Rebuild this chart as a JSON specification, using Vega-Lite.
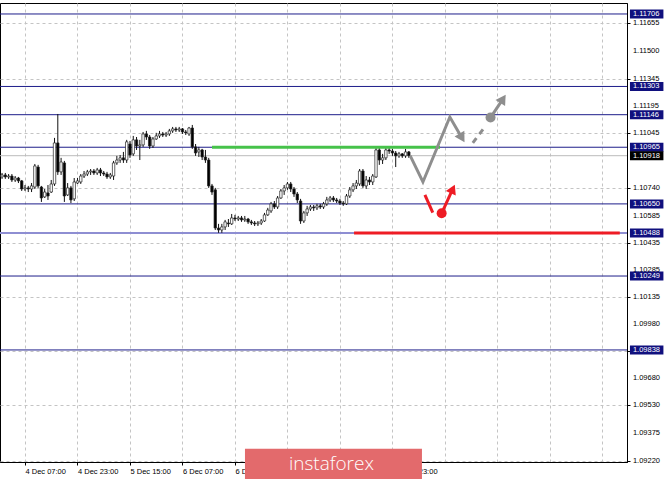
{
  "$schema": "https://vega.github.io/schema/vega-lite/v6.json",
  "autosize": "none",
  "width": 627,
  "height": 459,
  "padding": {"left": 0, "top": 3, "right": 38, "bottom": 18},
  "background": "white",
  "config": {
    "view": {"stroke": "#000", "strokeWidth": 1},
    "axis": {"labelFont": "Liberation Sans", "labelFontSize": 7.5, "labelColor": "#000", "domainColor": "#000", "tickColor": "#000", "gridColor": "#c4c4c4", "gridDash": [3, 3], "gridWidth": 1, "title": null, "labelOverlap": false, "labelFlush": false, "labelBound": false}
  },
  "datasets": {
    "candles": [
      {"i": -7, "o": 1.10800, "c": 1.10811, "h": 1.10822, "l": 1.10789},
      {"i": -6, "o": 1.10811, "c": 1.10800, "h": 1.10822, "l": 1.10789},
      {"i": -5, "o": 1.10800, "c": 1.10805, "h": 1.10816, "l": 1.10789},
      {"i": -4, "o": 1.10805, "c": 1.10783, "h": 1.10816, "l": 1.10772},
      {"i": -3, "o": 1.10783, "c": 1.10794, "h": 1.10805, "l": 1.10772},
      {"i": -2, "o": 1.10794, "c": 1.10778, "h": 1.10800, "l": 1.10766},
      {"i": -1, "o": 1.10778, "c": 1.10733, "h": 1.10783, "l": 1.10722},
      {"i": 0, "o": 1.10733, "c": 1.10739, "h": 1.10755, "l": 1.10722},
      {"i": 1, "o": 1.10739, "c": 1.10733, "h": 1.10750, "l": 1.10716},
      {"i": 2, "o": 1.10733, "c": 1.10750, "h": 1.10766, "l": 1.10716},
      {"i": 3, "o": 1.10744, "c": 1.10861, "h": 1.10872, "l": 1.10733},
      {"i": 4, "o": 1.10855, "c": 1.10750, "h": 1.10867, "l": 1.10739},
      {"i": 5, "o": 1.10744, "c": 1.10683, "h": 1.10750, "l": 1.10661},
      {"i": 6, "o": 1.10689, "c": 1.10716, "h": 1.10733, "l": 1.10683},
      {"i": 7, "o": 1.10711, "c": 1.10694, "h": 1.10755, "l": 1.10672},
      {"i": 8, "o": 1.10716, "c": 1.10761, "h": 1.10783, "l": 1.10711},
      {"i": 9, "o": 1.10761, "c": 1.10989, "h": 1.11017, "l": 1.10750},
      {"i": 10, "o": 1.10989, "c": 1.10828, "h": 1.11150, "l": 1.10811},
      {"i": 11, "o": 1.10828, "c": 1.10883, "h": 1.10906, "l": 1.10811},
      {"i": 12, "o": 1.10878, "c": 1.10694, "h": 1.10889, "l": 1.10661},
      {"i": 13, "o": 1.10700, "c": 1.10739, "h": 1.10766, "l": 1.10694},
      {"i": 14, "o": 1.10739, "c": 1.10672, "h": 1.10750, "l": 1.10655},
      {"i": 15, "o": 1.10678, "c": 1.10772, "h": 1.10794, "l": 1.10666},
      {"i": 16, "o": 1.10766, "c": 1.10778, "h": 1.10794, "l": 1.10761},
      {"i": 17, "o": 1.10772, "c": 1.10805, "h": 1.10816, "l": 1.10761},
      {"i": 18, "o": 1.10805, "c": 1.10816, "h": 1.10833, "l": 1.10794},
      {"i": 19, "o": 1.10816, "c": 1.10828, "h": 1.10839, "l": 1.10805},
      {"i": 20, "o": 1.10828, "c": 1.10833, "h": 1.10844, "l": 1.10811},
      {"i": 21, "o": 1.10833, "c": 1.10822, "h": 1.10844, "l": 1.10811},
      {"i": 22, "o": 1.10822, "c": 1.10839, "h": 1.10850, "l": 1.10811},
      {"i": 23, "o": 1.10839, "c": 1.10822, "h": 1.10850, "l": 1.10805},
      {"i": 24, "o": 1.10822, "c": 1.10816, "h": 1.10833, "l": 1.10805},
      {"i": 25, "o": 1.10816, "c": 1.10800, "h": 1.10828, "l": 1.10789},
      {"i": 26, "o": 1.10800, "c": 1.10811, "h": 1.10822, "l": 1.10789},
      {"i": 27, "o": 1.10805, "c": 1.10878, "h": 1.10889, "l": 1.10783},
      {"i": 28, "o": 1.10878, "c": 1.10894, "h": 1.10917, "l": 1.10867},
      {"i": 29, "o": 1.10894, "c": 1.10906, "h": 1.10922, "l": 1.10878},
      {"i": 30, "o": 1.10906, "c": 1.10894, "h": 1.10939, "l": 1.10878},
      {"i": 31, "o": 1.10894, "c": 1.10995, "h": 1.11006, "l": 1.10878},
      {"i": 32, "o": 1.10983, "c": 1.10922, "h": 1.11000, "l": 1.10906},
      {"i": 33, "o": 1.10928, "c": 1.11006, "h": 1.11028, "l": 1.10917},
      {"i": 34, "o": 1.11006, "c": 1.10972, "h": 1.11022, "l": 1.10950},
      {"i": 35, "o": 1.10972, "c": 1.10978, "h": 1.11006, "l": 1.10894},
      {"i": 36, "o": 1.10978, "c": 1.11039, "h": 1.11050, "l": 1.10967},
      {"i": 37, "o": 1.11039, "c": 1.11022, "h": 1.11056, "l": 1.11006},
      {"i": 38, "o": 1.11022, "c": 1.10972, "h": 1.11033, "l": 1.10956},
      {"i": 39, "o": 1.10972, "c": 1.11011, "h": 1.11022, "l": 1.10961},
      {"i": 40, "o": 1.11011, "c": 1.11028, "h": 1.11045, "l": 1.11006},
      {"i": 41, "o": 1.11028, "c": 1.11039, "h": 1.11056, "l": 1.11017},
      {"i": 42, "o": 1.11039, "c": 1.11033, "h": 1.11050, "l": 1.11022},
      {"i": 43, "o": 1.11033, "c": 1.11039, "h": 1.11050, "l": 1.11022},
      {"i": 44, "o": 1.11039, "c": 1.11056, "h": 1.11067, "l": 1.11028},
      {"i": 45, "o": 1.11056, "c": 1.11067, "h": 1.11078, "l": 1.11045},
      {"i": 46, "o": 1.11067, "c": 1.11061, "h": 1.11078, "l": 1.11050},
      {"i": 47, "o": 1.11061, "c": 1.11067, "h": 1.11078, "l": 1.11050},
      {"i": 48, "o": 1.11067, "c": 1.11050, "h": 1.11072, "l": 1.11039},
      {"i": 49, "o": 1.11050, "c": 1.11045, "h": 1.11061, "l": 1.11033},
      {"i": 50, "o": 1.11039, "c": 1.11072, "h": 1.11078, "l": 1.11028},
      {"i": 51, "o": 1.11072, "c": 1.10967, "h": 1.11089, "l": 1.10956},
      {"i": 52, "o": 1.10967, "c": 1.10933, "h": 1.10983, "l": 1.10917},
      {"i": 53, "o": 1.10939, "c": 1.10950, "h": 1.10967, "l": 1.10911},
      {"i": 54, "o": 1.10950, "c": 1.10911, "h": 1.10956, "l": 1.10894},
      {"i": 55, "o": 1.10911, "c": 1.10894, "h": 1.10950, "l": 1.10878},
      {"i": 56, "o": 1.10894, "c": 1.10750, "h": 1.10906, "l": 1.10739},
      {"i": 57, "o": 1.10750, "c": 1.10716, "h": 1.10761, "l": 1.10700},
      {"i": 58, "o": 1.10728, "c": 1.10516, "h": 1.10739, "l": 1.10505},
      {"i": 59, "o": 1.10516, "c": 1.10505, "h": 1.10539, "l": 1.10489},
      {"i": 60, "o": 1.10505, "c": 1.10522, "h": 1.10539, "l": 1.10489},
      {"i": 61, "o": 1.10522, "c": 1.10550, "h": 1.10561, "l": 1.10505},
      {"i": 62, "o": 1.10544, "c": 1.10539, "h": 1.10566, "l": 1.10522},
      {"i": 63, "o": 1.10539, "c": 1.10572, "h": 1.10594, "l": 1.10533},
      {"i": 64, "o": 1.10572, "c": 1.10566, "h": 1.10589, "l": 1.10555},
      {"i": 65, "o": 1.10566, "c": 1.10572, "h": 1.10583, "l": 1.10555},
      {"i": 66, "o": 1.10572, "c": 1.10561, "h": 1.10583, "l": 1.10550},
      {"i": 67, "o": 1.10561, "c": 1.10566, "h": 1.10583, "l": 1.10550},
      {"i": 68, "o": 1.10566, "c": 1.10550, "h": 1.10572, "l": 1.10539},
      {"i": 69, "o": 1.10550, "c": 1.10544, "h": 1.10561, "l": 1.10533},
      {"i": 70, "o": 1.10544, "c": 1.10539, "h": 1.10555, "l": 1.10527},
      {"i": 71, "o": 1.10539, "c": 1.10544, "h": 1.10555, "l": 1.10527},
      {"i": 72, "o": 1.10544, "c": 1.10555, "h": 1.10566, "l": 1.10533},
      {"i": 73, "o": 1.10555, "c": 1.10589, "h": 1.10600, "l": 1.10550},
      {"i": 74, "o": 1.10589, "c": 1.10616, "h": 1.10628, "l": 1.10583},
      {"i": 75, "o": 1.10611, "c": 1.10650, "h": 1.10661, "l": 1.10600},
      {"i": 76, "o": 1.10650, "c": 1.10633, "h": 1.10666, "l": 1.10622},
      {"i": 77, "o": 1.10633, "c": 1.10683, "h": 1.10694, "l": 1.10622},
      {"i": 78, "o": 1.10683, "c": 1.10722, "h": 1.10733, "l": 1.10678},
      {"i": 79, "o": 1.10722, "c": 1.10739, "h": 1.10755, "l": 1.10700},
      {"i": 80, "o": 1.10739, "c": 1.10761, "h": 1.10772, "l": 1.10728},
      {"i": 81, "o": 1.10761, "c": 1.10733, "h": 1.10772, "l": 1.10716},
      {"i": 82, "o": 1.10733, "c": 1.10705, "h": 1.10744, "l": 1.10689},
      {"i": 83, "o": 1.10705, "c": 1.10672, "h": 1.10716, "l": 1.10655},
      {"i": 84, "o": 1.10666, "c": 1.10555, "h": 1.10678, "l": 1.10539},
      {"i": 85, "o": 1.10555, "c": 1.10600, "h": 1.10611, "l": 1.10544},
      {"i": 86, "o": 1.10600, "c": 1.10622, "h": 1.10639, "l": 1.10583},
      {"i": 87, "o": 1.10622, "c": 1.10633, "h": 1.10644, "l": 1.10611},
      {"i": 88, "o": 1.10633, "c": 1.10628, "h": 1.10644, "l": 1.10611},
      {"i": 89, "o": 1.10628, "c": 1.10639, "h": 1.10650, "l": 1.10616},
      {"i": 90, "o": 1.10639, "c": 1.10633, "h": 1.10650, "l": 1.10622},
      {"i": 91, "o": 1.10633, "c": 1.10650, "h": 1.10661, "l": 1.10622},
      {"i": 92, "o": 1.10650, "c": 1.10672, "h": 1.10689, "l": 1.10639},
      {"i": 93, "o": 1.10672, "c": 1.10683, "h": 1.10694, "l": 1.10661},
      {"i": 94, "o": 1.10683, "c": 1.10672, "h": 1.10694, "l": 1.10661},
      {"i": 95, "o": 1.10672, "c": 1.10666, "h": 1.10683, "l": 1.10655},
      {"i": 96, "o": 1.10666, "c": 1.10655, "h": 1.10678, "l": 1.10644},
      {"i": 97, "o": 1.10655, "c": 1.10650, "h": 1.10666, "l": 1.10639},
      {"i": 98, "o": 1.10650, "c": 1.10694, "h": 1.10705, "l": 1.10644},
      {"i": 99, "o": 1.10694, "c": 1.10728, "h": 1.10744, "l": 1.10683},
      {"i": 100, "o": 1.10728, "c": 1.10750, "h": 1.10766, "l": 1.10716},
      {"i": 101, "o": 1.10750, "c": 1.10766, "h": 1.10783, "l": 1.10733},
      {"i": 102, "o": 1.10761, "c": 1.10833, "h": 1.10844, "l": 1.10750},
      {"i": 103, "o": 1.10833, "c": 1.10750, "h": 1.10844, "l": 1.10739},
      {"i": 104, "o": 1.10750, "c": 1.10783, "h": 1.10805, "l": 1.10733},
      {"i": 105, "o": 1.10783, "c": 1.10772, "h": 1.10800, "l": 1.10755},
      {"i": 106, "o": 1.10772, "c": 1.10805, "h": 1.10816, "l": 1.10755},
      {"i": 107, "o": 1.10800, "c": 1.10950, "h": 1.10961, "l": 1.10794},
      {"i": 108, "o": 1.10950, "c": 1.10894, "h": 1.10967, "l": 1.10867},
      {"i": 109, "o": 1.10894, "c": 1.10906, "h": 1.10928, "l": 1.10872},
      {"i": 110, "o": 1.10906, "c": 1.10950, "h": 1.10967, "l": 1.10894},
      {"i": 111, "o": 1.10950, "c": 1.10944, "h": 1.10967, "l": 1.10928},
      {"i": 112, "o": 1.10944, "c": 1.10933, "h": 1.10956, "l": 1.10917},
      {"i": 113, "o": 1.10933, "c": 1.10917, "h": 1.10944, "l": 1.10855},
      {"i": 114, "o": 1.10917, "c": 1.10928, "h": 1.10939, "l": 1.10906},
      {"i": 115, "o": 1.10928, "c": 1.10917, "h": 1.10933, "l": 1.10906},
      {"i": 116, "o": 1.10917, "c": 1.10939, "h": 1.10956, "l": 1.10906},
      {"i": 117, "o": 1.10939, "c": 1.10918, "h": 1.10944, "l": 1.10906}
    ],
    "ticks": [
      {"p": 1.09220}, {"p": 1.09375}, {"p": 1.09530}, {"p": 1.09680}, {"p": 1.09980},
      {"p": 1.10135}, {"p": 1.10285}, {"p": 1.10435}, {"p": 1.10585}, {"p": 1.10740},
      {"p": 1.11045}, {"p": 1.11195}, {"p": 1.11345}, {"p": 1.11500}, {"p": 1.11655}
    ],
    "levels": [
      {"p": 1.11706, "t": "n"},
      {"p": 1.11303, "t": "n"},
      {"p": 1.11146, "t": "n"},
      {"p": 1.10965, "t": "n"},
      {"p": 1.10650, "t": "n"},
      {"p": 1.10488, "t": "l"},
      {"p": 1.10249, "t": "n"},
      {"p": 1.09838, "t": "n"}
    ],
    "segs": [
      {"k": "green", "x1": 57.0, "x2": 126.5, "p": 1.10965},
      {"k": "red", "x1": 100.3, "x2": 181.3, "p": 1.10488}
    ],
    "draw": [
      {"g": "z", "o": 0, "i": 117.4, "p": 1.10918},
      {"g": "z", "o": 1, "i": 121.3, "p": 1.10772},
      {"g": "z", "o": 2, "i": 129.5, "p": 1.11133},
      {"g": "z", "o": 3, "i": 133.2, "p": 1.11017},
      {"g": "a", "o": 0, "i": 141.9, "p": 1.11130},
      {"g": "a", "o": 1, "i": 145.7, "p": 1.11234},
      {"g": "d", "o": 0, "i": 136.5, "p": 1.10989},
      {"g": "d", "o": 1, "i": 139.9, "p": 1.11072},
      {"g": "r", "o": 0, "i": 121.9, "p": 1.10700},
      {"g": "r", "o": 1, "i": 124.3, "p": 1.10601},
      {"g": "q", "o": 0, "i": 127.0, "p": 1.10598},
      {"g": "q", "o": 1, "i": 130.4, "p": 1.10733}
    ],
    "dots": [
      {"k": "gray", "i": 141.9, "p": 1.11130},
      {"k": "red", "i": 127.0, "p": 1.10598}
    ]
  },
  "layer": [
    {
      "data": {"name": "candles"},
      "mark": {"type": "rule", "color": "#111", "strokeWidth": 1, "opacity": 0},
      "encoding": {
        "x": {"field": "i", "type": "quantitative", "scale": {"domain": [-7.62, 183.5], "nice": false, "zero": false, "padding": 0},
          "axis": {"orient": "bottom", "values": [-16, 0, 8, 16, 24, 32, 40, 48, 56, 64, 72, 80, 88, 96, 104, 112, 120, 128, 136, 144, 152, 160, 168, 176],
            "grid": true, "tickSize": 3, "labelOverlap": false,
            "tickColor": {"condition": {"test": "datum.value % 16 === 0 && datum.value <= 112", "value": "#000"}, "value": "transparent"},
            "labelAlign": "left", "labelBaseline": "top", "labelPadding": 2,
            "labelExpr": "datum.value==-16?'3 Dec 15:00':datum.value==0?'4 Dec 07:00':datum.value==16?'4 Dec 23:00':datum.value==32?'5 Dec 15:00':datum.value==48?'6 Dec 07:00':datum.value==64?'6 Dec 23:00':datum.value==112?'10 Dec 23:00':''"}},
        "y": {"field": "l", "type": "quantitative", "scale": {"domain": [1.09215, 1.11767], "nice": false, "zero": false, "padding": 0},
          "axis": {"orient": "right", "values": [1.09220, 1.09375, 1.09530, 1.09680, 1.09830, 1.09980, 1.10135, 1.10285, 1.10435, 1.10585, 1.10740, 1.10890, 1.11045, 1.11195, 1.11345, 1.11500, 1.11655],
            "grid": true, "tickSize": 3, "labels": false}},
        "y2": {"field": "h"}
      }
    },
    {
      "data": {"name": "ticks"},
      "mark": {"type": "text", "align": "left", "baseline": "middle", "font": "Liberation Sans", "fontSize": 7.5, "color": "#000"},
      "encoding": {
        "x": {"datum": 185.3},
        "y": {"field": "p", "type": "quantitative"},
        "text": {"field": "p", "format": ".5f"}
      }
    },
    {
      "data": {"name": "levels"},
      "mark": {"type": "rule"},
      "encoding": {
        "y": {"field": "p", "type": "quantitative"},
        "color": {"condition": {"test": "datum.t === 'l'", "value": "#8e8ed2"}, "value": "#1d1d8a"},
        "strokeWidth": {"condition": {"test": "datum.t === 'l'", "value": 2}, "value": 1}
      }
    },
    {
      "data": {"values": [{"p": 1.10918}]},
      "mark": {"type": "rule", "color": "#bcbcbc", "strokeWidth": 1},
      "encoding": {"y": {"field": "p", "type": "quantitative"}}
    },
    {
      "data": {"name": "candles"},
      "mark": {"type": "rule", "color": "#111", "strokeWidth": 1},
      "encoding": {
        "x": {"field": "i", "type": "quantitative"},
        "y": {"field": "l", "type": "quantitative"},
        "y2": {"field": "h"}
      }
    },
    {
      "data": {"name": "candles"},
      "mark": {"type": "bar", "size": 2.4, "stroke": "#222", "strokeWidth": 0.7},
      "encoding": {
        "x": {"field": "i", "type": "quantitative"},
        "y": {"field": "o", "type": "quantitative"},
        "y2": {"field": "c"},
        "fill": {"condition": {"test": "datum.c >= datum.o", "value": "white"}, "value": "black"}
      }
    },
    {
      "data": {"name": "segs"},
      "mark": {"type": "rule", "strokeWidth": 3},
      "encoding": {
        "x": {"field": "x1", "type": "quantitative"},
        "x2": {"field": "x2"},
        "y": {"field": "p", "type": "quantitative"},
        "color": {"condition": {"test": "datum.k === 'green'", "value": "#46c24a"}, "value": "#ee1c25"}
      }
    },
    {
      "data": {"name": "draw"},
      "transform": [{"filter": "datum.g === 'z' || datum.g === 'a'"}],
      "mark": {"type": "line", "color": "#8e8e8e", "strokeWidth": 3, "strokeJoin": "miter"},
      "encoding": {
        "x": {"field": "i", "type": "quantitative"},
        "y": {"field": "p", "type": "quantitative"},
        "detail": {"field": "g"},
        "order": {"field": "o"}
      }
    },
    {
      "data": {"name": "draw"},
      "transform": [{"filter": "datum.g === 'd'"}],
      "mark": {"type": "line", "color": "#8e8e8e", "strokeWidth": 3, "strokeDash": [6, 5]},
      "encoding": {
        "x": {"field": "i", "type": "quantitative"},
        "y": {"field": "p", "type": "quantitative"},
        "order": {"field": "o"}
      }
    },
    {
      "data": {"name": "draw"},
      "transform": [{"filter": "datum.g === 'r' || datum.g === 'q'"}],
      "mark": {"type": "line", "color": "#ee1c25", "strokeWidth": 3},
      "encoding": {
        "x": {"field": "i", "type": "quantitative"},
        "y": {"field": "p", "type": "quantitative"},
        "detail": {"field": "g"},
        "order": {"field": "o"}
      }
    },
    {
      "data": {"values": [{"i": 133.2, "p": 1.11017}]},
      "mark": {"type": "point", "shape": "triangle-up", "filled": true, "color": "#8e8e8e", "size": 130, "angle": 149, "opacity": 1},
      "encoding": {"x": {"field": "i", "type": "quantitative"}, "y": {"field": "p", "type": "quantitative"}}
    },
    {
      "data": {"values": [{"i": 145.7, "p": 1.11234}]},
      "mark": {"type": "point", "shape": "triangle-up", "filled": true, "color": "#8e8e8e", "size": 130, "angle": 33, "opacity": 1},
      "encoding": {"x": {"field": "i", "type": "quantitative"}, "y": {"field": "p", "type": "quantitative"}}
    },
    {
      "data": {"values": [{"i": 130.4, "p": 1.10733}]},
      "mark": {"type": "point", "shape": "triangle-up", "filled": true, "color": "#ee1c25", "size": 120, "angle": 25, "opacity": 1},
      "encoding": {"x": {"field": "i", "type": "quantitative"}, "y": {"field": "p", "type": "quantitative"}}
    },
    {
      "data": {"name": "dots"},
      "mark": {"type": "point", "shape": "circle", "filled": true, "size": 100, "opacity": 1},
      "encoding": {
        "x": {"field": "i", "type": "quantitative"},
        "y": {"field": "p", "type": "quantitative"},
        "color": {"condition": {"test": "datum.k === 'gray'", "value": "#8e8e8e"}, "value": "#ee1c25"}
      }
    },
    {
      "data": {"name": "levels"},
      "mark": {"type": "bar", "orient": "horizontal", "size": 9},
      "encoding": {
        "x": {"datum": 184.4},
        "x2": {"datum": 194.6},
        "y": {"field": "p", "type": "quantitative"},
        "color": {"value": "#10107e"}
      }
    },
    {
      "data": {"values": [{"p": 1.10918}]},
      "mark": {"type": "bar", "orient": "horizontal", "size": 9},
      "encoding": {
        "x": {"datum": 184.4},
        "x2": {"datum": 194.6},
        "y": {"field": "p", "type": "quantitative"},
        "color": {"value": "#000"}
      }
    },
    {
      "data": {"name": "levels"},
      "mark": {"type": "text", "align": "left", "baseline": "middle", "font": "Liberation Sans", "fontSize": 7.5, "color": "white"},
      "encoding": {
        "x": {"datum": 185.3},
        "y": {"field": "p", "type": "quantitative"},
        "text": {"field": "p", "format": ".5f"}
      }
    },
    {
      "data": {"values": [{"p": 1.10918}]},
      "mark": {"type": "text", "align": "left", "baseline": "middle", "font": "Liberation Sans", "fontSize": 7.5, "color": "white"},
      "encoding": {
        "x": {"datum": 185.3},
        "y": {"field": "p", "type": "quantitative"},
        "text": {"field": "p", "format": ".5f"}
      }
    },
    {
      "data": {"values": [{"a": 1}]},
      "mark": {"type": "rect", "color": "#e36a6c"},
      "encoding": {
        "x": {"datum": 67.05},
        "x2": {"datum": 121.0},
        "y": {"datum": 1.09288},
        "y2": {"datum": 1.09120}
      }
    },
    {
      "data": {"values": [{"t": "instaforex"}]},
      "mark": {"type": "text", "align": "center", "baseline": "middle", "font": "Open Sans", "fontSize": 19, "fontWeight": 300, "color": "white"},
      "encoding": {
        "x": {"datum": 93.4},
        "y": {"datum": 1.09204},
        "text": {"field": "t"}
      }
    }
  ]
}
